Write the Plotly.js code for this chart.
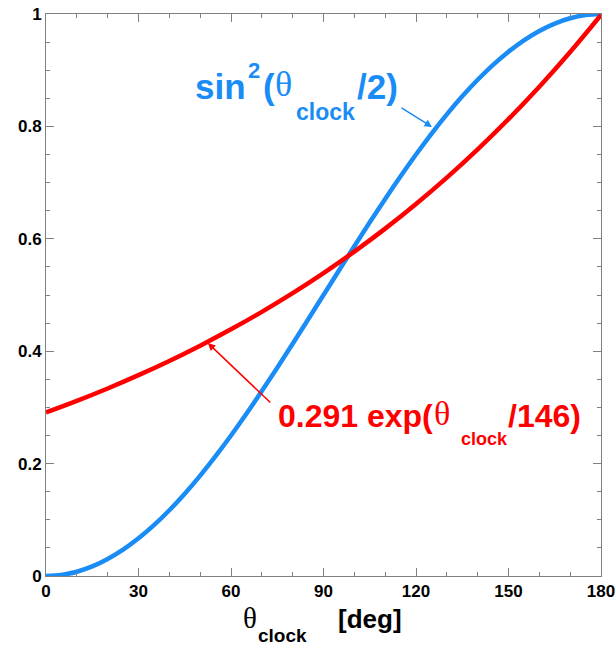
<!DOCTYPE html>
<html>
<head>
<meta charset="utf-8">
<script src="https://cdn.plot.ly/plotly-3.0.1.min.js"></script>
<style>html,body{margin:0;padding:0;background:#fff;}#chart{width:615px;height:647px;}</style>
</head>
<body>
<div id="chart"></div>
<script>
// Blue curve: sin^2(theta/2)
const thetaBlue = [0,5,10,15,20,25,30,35,40,45,50,55,60,65,70,75,80,85,90,95,100,105,110,115,120,125,130,135,140,145,150,155,160,165,170,175,180];
const sinSqValues = [0,0.0019,0.0076,0.0170,0.0302,0.0468,0.0670,0.0904,0.1170,0.1464,0.1786,0.2132,0.25,0.2887,0.3290,0.3706,0.4132,0.4564,0.5,0.5436,0.5868,0.6294,0.6710,0.7113,0.75,0.7868,0.8214,0.8536,0.8830,0.9096,0.9330,0.9532,0.9698,0.9830,0.9924,0.9981,1.0];
// Red curve: 0.291 exp(theta/146)
const thetaRed = [0,10,20,30,40,50,60,70,80,90,100,110,120,130,140,150,160,170,180];
const expValues = [0.291,0.3116,0.3337,0.3574,0.3827,0.4099,0.4389,0.4700,0.5033,0.5390,0.5772,0.6181,0.6620,0.7089,0.7592,0.8130,0.8706,0.9324,0.9984];
const xTickVals = [0,30,60,90,120,150,180];
const yTickVals = [0,0.2,0.4,0.6,0.8,1];
const yTickText = ['0','0.2','0.4','0.6','0.8','1'];

const blue = '#1a8cf5';
const red = '#ff0000';
const SANS = '"Liberation Sans", Arial, sans-serif';
const SERIF = '"Liberation Serif", "DejaVu Serif", serif';

// plot area in pixels: x 46..601, y 14..576
const L = 46, R = 601, T = 14, B = 576;
const px = v => (v - L) / (R - L);
const py = v => (B - v) / (B - T);

function piece(text, left, cy, size, color, family, bold) {
  return {xref: 'paper', yref: 'paper', x: px(left), y: py(cy), xanchor: 'left', yanchor: 'middle',
    showarrow: false, text: bold ? '<b>' + text + '</b>' : text,
    font: {family: family, size: size, color: color, weight: bold ? 'bold' : 'normal'}};
}

const traces = [
  {x: thetaBlue, y: sinSqValues, mode: 'lines', line: {color: blue, width: 4.5, shape: 'spline'}, hoverinfo: 'none'},
  {x: thetaRed, y: expValues, mode: 'lines', line: {color: red, width: 4.5, shape: 'spline'}, hoverinfo: 'none'}
];

const axisCommon = {
  showgrid: false, zeroline: false, showline: true, mirror: 'ticks',
  linecolor: '#808080', linewidth: 1,
  ticks: 'inside', ticklen: 8, tickcolor: '#808080', tickwidth: 1,
  ticklabeloverflow: 'allow',
  tickfont: {family: SANS, size: 17, color: '#000', weight: 'bold'}
};

const layout = {
  width: 615, height: 647,
  margin: {l: L, r: 615 - R, t: T, b: 647 - B},
  paper_bgcolor: '#fff', plot_bgcolor: '#fff',
  showlegend: false,
  font: {family: SANS},
  xaxis: Object.assign({}, axisCommon, {
    range: [0, 180], tickvals: xTickVals, ticktext: xTickVals.map(String),
    minor: {dtick: 10, ticks: 'inside', ticklen: 4, tickcolor: '#808080'}
  }),
  yaxis: Object.assign({}, axisCommon, {
    range: [0, 1], tickvals: yTickVals, ticktext: yTickText,
    minor: {dtick: 0.05, ticks: 'inside', ticklen: 4, tickcolor: '#808080'}
  }),
  annotations: [
    // x-axis title
    piece('θ', 241, 618, 29, '#000', SERIF, false),
    piece('clock', 256, 635, 19, '#000', SANS, true),
    piece('[deg]', 336, 619, 26, '#000', SANS, true),
    // blue label
    piece('sin', 193, 86, 35, blue, SANS, true),
    piece('2', 246, 70, 22, blue, SANS, true),
    piece('(', 261, 86, 35, blue, SANS, true),
    piece('θ', 273, 84, 36, blue, SERIF, false),
    piece('clock', 294, 112, 23, blue, SANS, true),
    piece('/2)', 355, 86, 35, blue, SANS, true),
    {x: 125.2, y: 0.799, xref: 'x', yref: 'y', text: '', showarrow: true, ax: -32, ay: -20,
     arrowcolor: blue, arrowwidth: 1.5, arrowhead: 2, arrowsize: 1},
    // red label
    piece('0.291 exp(', 276, 416, 32, red, SANS, true),
    piece('θ', 432, 414, 34, red, SERIF, false),
    piece('clock', 459, 439, 18, red, SANS, true),
    piece('/146)', 506, 416, 32, red, SANS, true),
    {x: 52.5, y: 0.4146, xref: 'x', yref: 'y', text: '', showarrow: true, ax: 64, ay: 61,
     arrowcolor: red, arrowwidth: 1.5, arrowhead: 2, arrowsize: 1}
  ]
};

Plotly.newPlot('chart', traces, layout, {staticPlot: true, displayModeBar: false});
</script>
</body>
</html>
